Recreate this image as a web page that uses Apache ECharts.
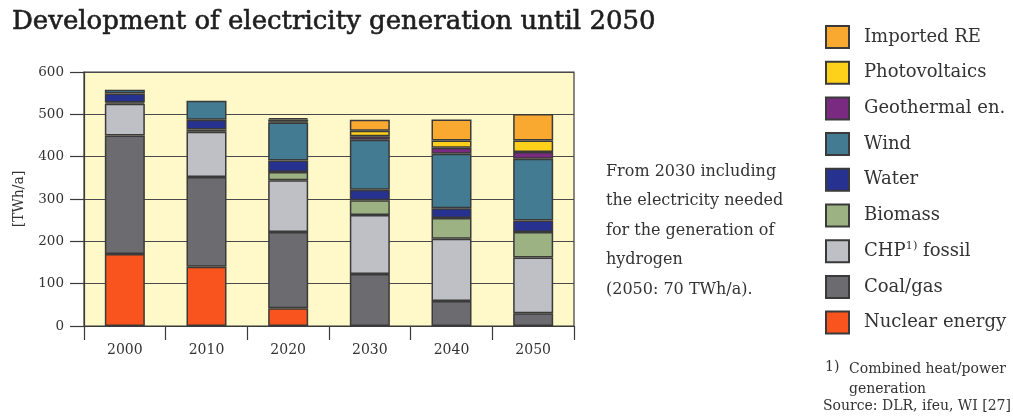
<!DOCTYPE html>
<html>
<head>
<meta charset="utf-8">
<script src="https://cdn.jsdelivr.net/npm/echarts@6/dist/echarts.min.js"></script>
<style>
  html, body { margin: 0; padding: 0; background: #ffffff; }
  #chart { width: 1013px; height: 417px; }
</style>
</head>
<body>
<div id="chart"></div>
<script>
// Electricity generation by source, TWh/a (null = no contribution that year)
const years = ['2000', '2010', '2020', '2030', '2040', '2050'];
const nuclearEnergy = [170, 140, 42, null, null, null];
const coalGas       = [280, 212, 180, 123, 59, 30];
const chpFossil     = [75, 107, 122, 139, 147, 132];
const biomass       = [3, 5, 20, 35, 49, 60];
const water         = [21, 23, 27, 25, 23, 27];
const wind          = [9, 45, 90, 118, 129, 146];
const geothermal    = [null, null, 2, 8, 14, 16];
const photovoltaics = [null, null, 5, 13, 17, 27];
const importedRE    = [null, null, 3, 26, 50, 63];
const yTicks = [0, 100, 200, 300, 400, 500, 600];

const FONT = 'DejaVu Serif';
const INK = '#333333';

// stacking order: bottom to top
const stackSeries = [
  { name: 'Nuclear energy', data: nuclearEnergy, color: '#F9541E' },
  { name: 'Coal/gas', data: coalGas, color: '#6B6B70' },
  { name: 'CHP fossil', data: chpFossil, color: '#BFBFC6' },
  { name: 'Biomass', data: biomass, color: '#9CB283' },
  { name: 'Water', data: water, color: '#27318F' },
  { name: 'Wind', data: wind, color: '#427B92' },
  { name: 'Geothermal en.', data: geothermal, color: '#7A2A80' },
  { name: 'Photovoltaics', data: photovoltaics, color: '#FDD01A' },
  { name: 'Imported RE', data: importedRE, color: '#F9A830' }
];

const chart = echarts.init(document.getElementById('chart'), null, { renderer: 'canvas' });

chart.setOption({
  animation: false,
  backgroundColor: '#ffffff',
  title: {
    text: 'Development of electricity generation until 2050',
    left: 7, top: 4,
    textStyle: { fontFamily: FONT, fontWeight: 'normal', fontSize: 26, color: '#1e1e1e', textBorderColor: '#1e1e1e', textBorderWidth: 0.6 }
  },
  grid: {
    left: 84, right: 439, top: 72, bottom: 91,
    show: true, backgroundColor: '#FFF9C9', borderColor: '#3a3a3a', borderWidth: 1.2
  },
  legend: {
    orient: 'vertical',
    left: 820, top: 20,
    padding: 5,
    icon: 'rect',
    itemWidth: 23, itemHeight: 22, itemGap: 11.7,
    selectedMode: false,
    data: stackSeries.map(s => s.name).reverse(),
    itemStyle: { borderColor: '#3a3a3a', borderWidth: 2 },
    formatter: name => name === 'CHP fossil' ? 'CHP{sup|1)} fossil' : name,
    textStyle: {
      fontFamily: FONT, fontSize: 18, color: INK, lineHeight: 22, padding: [0, 0, 0, 10],
      rich: { sup: { fontFamily: FONT, fontSize: 11.5, color: INK, lineHeight: 22, verticalAlign: 'top', padding: [0, 0, 7, 0] } }
    }
  },
  xAxis: {
    type: 'category',
    data: years,
    boundaryGap: true,
    axisLine: { lineStyle: { color: '#3a3a3a', width: 1.2 } },
    axisTick: { show: true, length: 14, alignWithLabel: false, lineStyle: { color: '#3a3a3a', width: 1.2 } },
    axisLabel: { fontFamily: FONT, fontSize: 14, color: INK, margin: 17 }
  },
  yAxis: {
    type: 'value',
    min: yTicks[0], max: yTicks[yTicks.length - 1], interval: 100,
    name: '[TWh/a]',
    nameLocation: 'middle', nameRotate: 90, nameGap: 58,
    nameTextStyle: { fontFamily: FONT, fontSize: 14, color: INK },
    axisLine: { show: true, lineStyle: { color: '#3a3a3a', width: 1.2 } },
    axisTick: { show: true, length: 14, lineStyle: { color: '#3a3a3a', width: 1.2 } },
    axisLabel: { fontFamily: FONT, fontSize: 13.5, color: INK, margin: 20 },
    splitLine: { show: true, lineStyle: { color: '#4a4a4a', width: 1.2 } }
  },
  series: stackSeries.map(s => ({
    name: s.name,
    type: 'bar',
    stack: 'total',
    barWidth: 40,
    data: s.data,
    itemStyle: { color: s.color, borderColor: '#3a3a3a', borderWidth: 1.5 }
  })),
  graphic: [
    {
      type: 'text', left: 606, top: 157,
      style: {
        text: 'From 2030 including\nthe electricity needed\nfor the generation of\nhydrogen\n(2050: 70 TWh/a).',
        font: '16px "DejaVu Serif"', fill: INK, lineHeight: 29.5
      }
    },
    { type: 'text', left: 825, top: 360, style: { text: '1)', font: '14px "DejaVu Serif"', fill: INK } },
    {
      type: 'text', left: 849, top: 360,
      style: { text: 'Combined heat/power\ngeneration', font: '14px "DejaVu Serif"', fill: INK, lineHeight: 19.5 }
    },
    { type: 'text', left: 823, top: 399, style: { text: 'Source: DLR, ifeu, WI [27]', font: '14px "DejaVu Serif"', fill: INK } }
  ]
});
</script>
</body>
</html>
